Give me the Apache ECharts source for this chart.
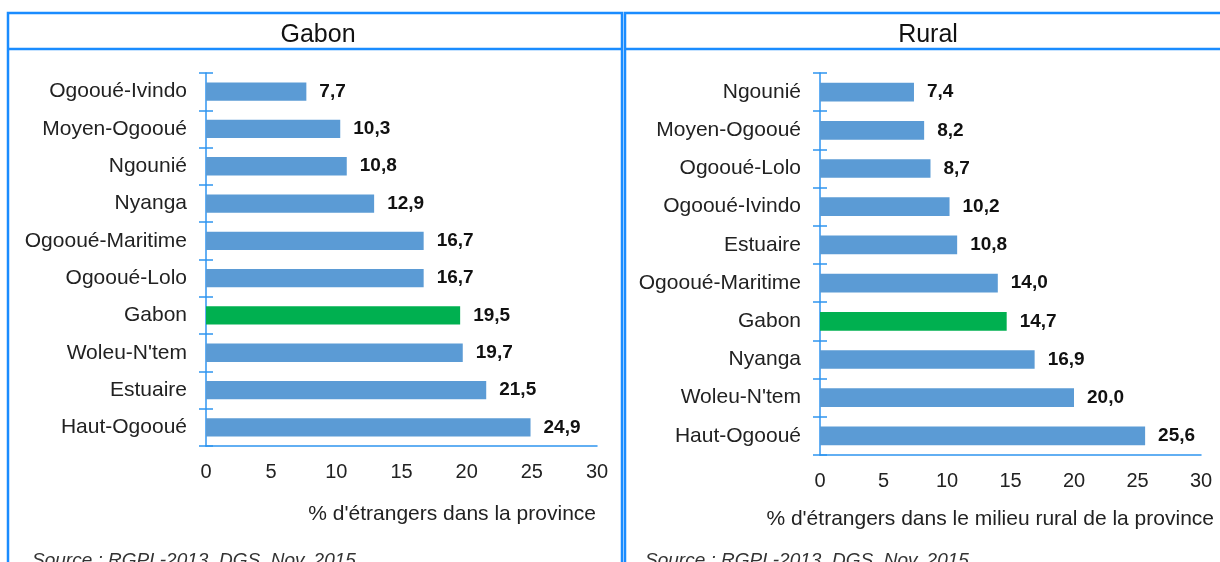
<!DOCTYPE html>
<html>
<head>
<meta charset="utf-8">
<script src="https://cdn.jsdelivr.net/npm/echarts@6/dist/echarts.min.js"></script>
<style>
  html, body { margin: 0; padding: 0; background: #fff; }
  #chart { width: 1220px; height: 562px; }
</style>
</head>
<body>
<div id="chart"></div>
<script>
// Gabon : part d'étrangers par province
const gabonCats = ['Ogooué-Ivindo', 'Moyen-Ogooué', 'Ngounié', 'Nyanga', 'Ogooué-Maritime',
  'Ogooué-Lolo', 'Gabon', "Woleu-N'tem", 'Estuaire', 'Haut-Ogooué']
const gabonVals = [7.7, 10.3, 10.8, 12.9, 16.7, 16.7, 19.5, 19.7, 21.5, 24.9]

// milieu rural
const ruralCats = ['Ngounié', 'Moyen-Ogooué', 'Ogooué-Lolo', 'Ogooué-Ivindo', 'Estuaire',
  'Ogooué-Maritime', 'Gabon', 'Nyanga', "Woleu-N'tem", 'Haut-Ogooué']
const ruralVals = [7.4, 8.2, 8.7, 10.2, 10.8, 14.0, 14.7, 16.9, 20.0, 25.6]

const xTicks = [0, 30, 5] // min, max, interval

const font = 'Liberation Sans, Arial, sans-serif'
const axisBlue = '#2f95f0'
const boxBlue = '#1a8cff'

function barData(cats, vals) {
  return vals.map((v, i) => ({
    value: v,
    itemStyle: { color: cats[i] === 'Gabon' ? '#00b050' : '#5b9bd5' }
  }))
}

function xAxis(gi) {
  return {
    gridIndex: gi,
    type: 'value',
    min: xTicks[0],
    max: xTicks[1],
    interval: xTicks[2],
    splitLine: { show: false },
    axisTick: { show: false },
    axisLine: { show: true, lineStyle: { color: axisBlue, width: 1.5 } },
    axisLabel: { fontFamily: font, fontSize: 20, color: '#222', margin: 16 }
  }
}

function yAxes(gi, cats) {
  return [
    {
      gridIndex: gi,
      type: 'category',
      data: cats,
      inverse: true,
      axisLine: { show: true, lineStyle: { color: axisBlue, width: 1.5 } },
      axisTick: { show: true, length: 7, lineStyle: { color: axisBlue, width: 1.5 } },
      axisLabel: { fontFamily: font, fontSize: 21, color: '#222', margin: 19 }
    },
    {
      // ticks on the inner side, so they cross the axis
      gridIndex: gi,
      type: 'category',
      data: cats,
      inverse: true,
      position: 'left',
      axisLine: { show: false },
      axisTick: { show: true, inside: true, length: 7, lineStyle: { color: axisBlue, width: 1.5 } },
      axisLabel: { show: false }
    }
  ]
}

function barSeries(xi, yi, cats, vals) {
  return {
    type: 'bar',
    xAxisIndex: xi,
    yAxisIndex: yi,
    data: barData(cats, vals),
    barWidth: '49%',
    silent: true,
    label: {
      show: true,
      position: 'right',
      distance: 13,
      fontFamily: font,
      fontSize: 19,
      fontWeight: 'bold',
      color: '#111',
      formatter: p => p.value.toFixed(1).replace('.', ',')
    }
  }
}

const chart = echarts.init(document.getElementById('chart'))

chart.setOption({
  animation: false,
  title: [
    { text: 'Gabon', left: 313, top: 18, textAlign: 'center',
      textStyle: { fontFamily: font, fontSize: 25, fontWeight: 'normal', color: '#111' } },
    { text: 'Rural', left: 923, top: 18, textAlign: 'center',
      textStyle: { fontFamily: font, fontSize: 25, fontWeight: 'normal', color: '#111' } },
    { text: "% d'étrangers dans la province", right: 619, top: 499,
      textStyle: { fontFamily: font, fontSize: 21, fontWeight: 'normal', color: '#222' } },
    { text: "% d'étrangers dans le milieu rural de la province", right: 1, top: 504,
      textStyle: { fontFamily: font, fontSize: 21, fontWeight: 'normal', color: '#222' } },
    { text: 'Source : RGPL-2013, DGS, Nov. 2015', left: 27, top: 546,
      textStyle: { fontFamily: font, fontSize: 19, fontStyle: 'italic', fontWeight: 'normal', color: '#333' } },
    { text: 'Source : RGPL-2013, DGS, Nov. 2015', left: 640, top: 546,
      textStyle: { fontFamily: font, fontSize: 19, fontStyle: 'italic', fontWeight: 'normal', color: '#333' } }
  ],
  grid: [
    { left: 206, top: 73, width: 391, height: 373 },
    { left: 820, top: 73, width: 381, height: 382 }
  ],
  xAxis: [xAxis(0), xAxis(1)],
  yAxis: [...yAxes(0, gabonCats), ...yAxes(1, ruralCats)],
  series: [
    barSeries(0, 0, gabonCats, gabonVals),
    barSeries(1, 2, ruralCats, ruralVals)
  ],
  graphic: [
    { type: 'rect', shape: { x: 8, y: 13, width: 614, height: 600 },
      style: { fill: 'none', stroke: boxBlue, lineWidth: 2.5 }, silent: true },
    { type: 'line', shape: { x1: 8, y1: 49, x2: 622, y2: 49 },
      style: { stroke: boxBlue, lineWidth: 2.5 }, silent: true },
    { type: 'rect', shape: { x: 625, y: 13, width: 700, height: 600 },
      style: { fill: 'none', stroke: boxBlue, lineWidth: 2.5 }, silent: true },
    { type: 'line', shape: { x1: 625, y1: 49, x2: 1220, y2: 49 },
      style: { stroke: boxBlue, lineWidth: 2.5 }, silent: true }
  ]
})
</script>
</body>
</html>
